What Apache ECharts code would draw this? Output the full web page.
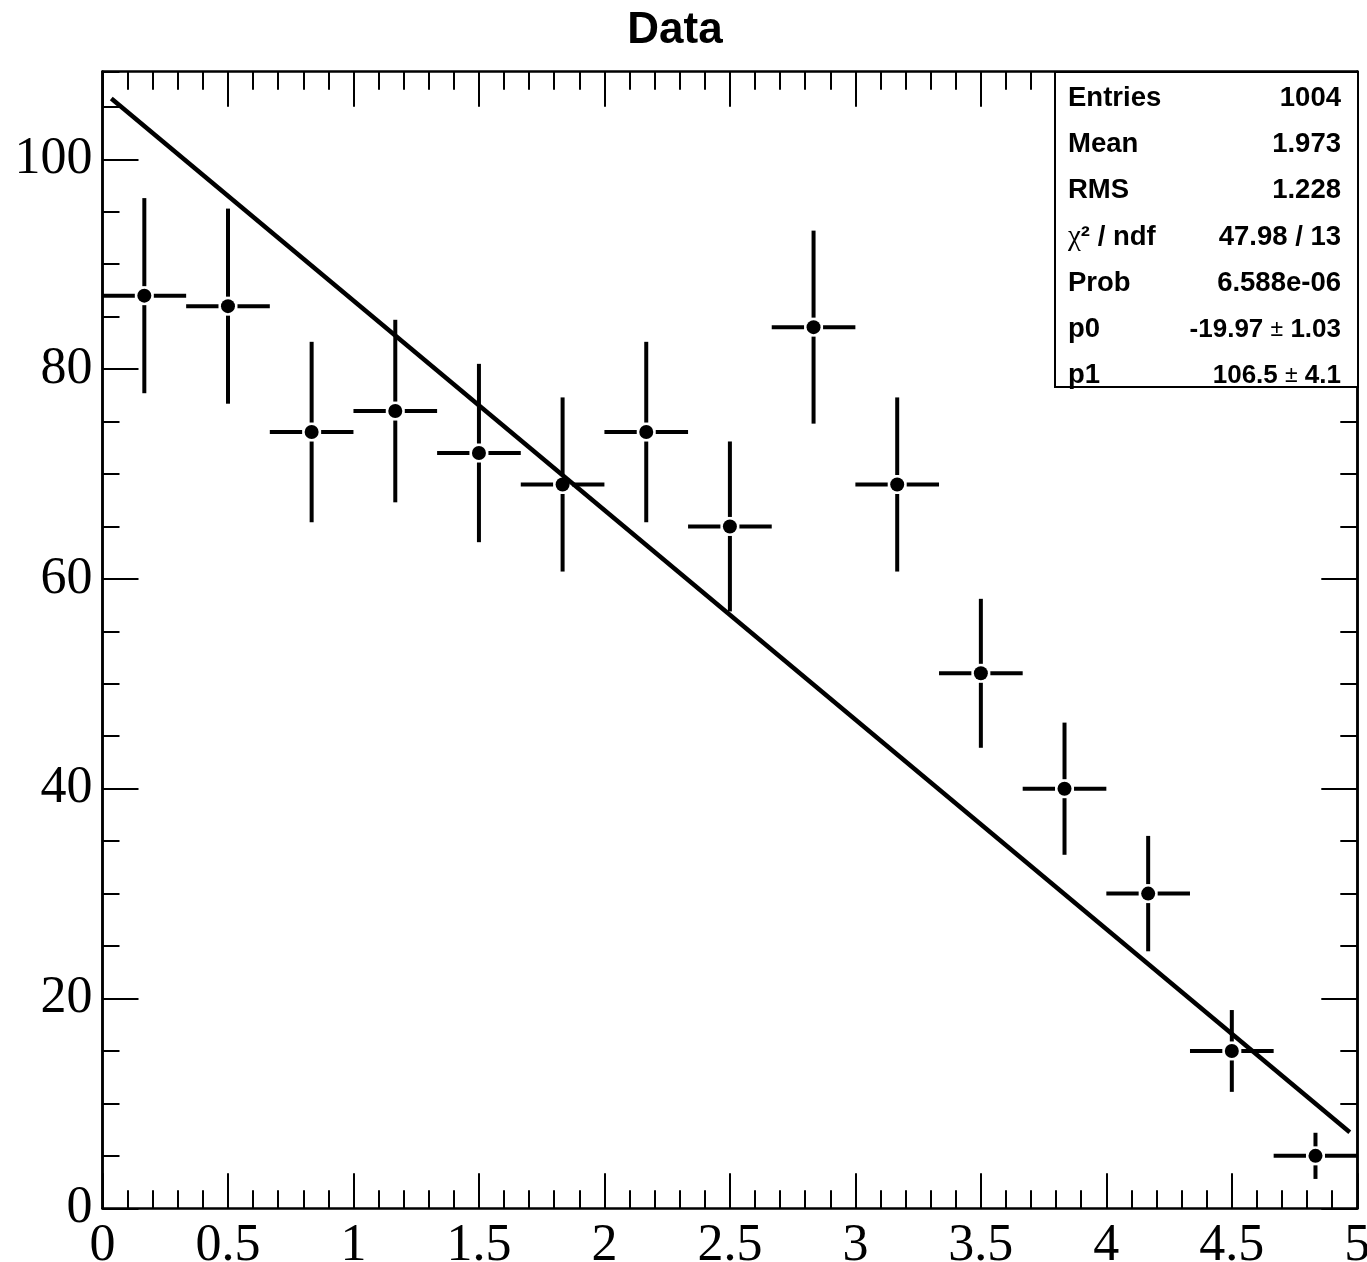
<!DOCTYPE html>
<html>
<head>
<meta charset="utf-8">
<title>Data</title>
<script src="https://cdn.jsdelivr.net/npm/echarts@6/dist/echarts.min.js"></script>
<style>
  html, body { margin: 0; padding: 0; background: #fff; overflow: hidden; }
  #chart { position: absolute; left: 0; top: 0; width: 1367px; height: 1262px; }
</style>
</head>
<body>
<div id="chart"></div>
<script>
// Histogram: 15 bins over [0, 5]
const binEdges = [0, 0.3333, 0.6667, 1, 1.3333, 1.6667, 2, 2.3333, 2.6667, 3,
                  3.3333, 3.6667, 4, 4.3333, 4.6667, 5];
const counts = [87, 86, 74, 76, 72, 69, 74, 65, 84, 69, 51, 40, 30, 15, 5];
const errors = [9.3, 9.3, 8.6, 8.7, 8.5, 8.3, 8.6, 8.1, 9.2, 8.3, 7.1, 6.3, 5.5, 3.9, 2.2];

// Linear fit y = p1 + p0 * x
const fitP0 = -19.97;
const fitP1 = 106.5;
const fitRange = [0.035, 4.97];

// Statistics box
const statsLabels = ['Entries', 'Mean', 'RMS', 'chi', 'Prob', 'p0', 'p1'];
const statsValues = ['1004', '1.973', '1.228', '47.98 / 13', '6.588e-06', '-19.97|1.03', '106.5|4.1'];

const X_MIN = 0, X_MAX = 5;
const Y_MIN = 0, Y_MAX = 108.35;

const binData = counts.map((c, i) => {
  const lo = binEdges[i], hi = binEdges[i + 1];
  return [(lo + hi) / 2, c, lo, hi, errors[i]];
});
const fitData = fitRange.map(x => [x, fitP1 + fitP0 * x]);

const chart = echarts.init(document.getElementById('chart'), null, { renderer: 'canvas', width: 1367, height: 1262 });

const serif = '"Liberation Serif", "Times New Roman", serif';
const sans = '"Liberation Sans", Arial, Helvetica, sans-serif';
const axisLineStyle = { color: '#000', width: 2.5 };
const tickStyle = { color: '#000', width: 2 };

function xAxisDef(pos, showLabels) {
  return {
    type: 'value', position: pos, min: X_MIN, max: X_MAX, interval: 0.5,
    axisLine: { show: true, onZero: false, lineStyle: axisLineStyle },
    axisTick: { show: true, inside: true, length: 35, lineStyle: tickStyle },
    minorTick: { show: true, splitNumber: 5, length: 18, lineStyle: tickStyle },
    splitLine: { show: false },
    axisLabel: {
      show: showLabels, color: '#000', fontFamily: serif, fontSize: 52, margin: 12,
      showMinLabel: true, showMaxLabel: true, hideOverlap: false
    }
  };
}

function yAxisDef(pos, interval, tickLen, showLabels) {
  return {
    type: 'value', position: pos, min: Y_MIN, max: Y_MAX, interval: interval,
    axisLine: { show: true, onZero: false, lineStyle: axisLineStyle },
    axisTick: { show: true, inside: true, length: tickLen, lineStyle: tickStyle },
    splitLine: { show: false },
    axisLabel: {
      show: showLabels, color: '#000', fontFamily: serif, fontSize: 52, margin: 10,
      showMaxLabel: false, padding: [8, 0, 0, 0]
    }
  };
}

const graphics = [];
graphics.push({
  type: 'text', z: 101, x: 675, y: 31,
  style: {
    text: 'Data', align: 'center', verticalAlign: 'middle',
    fontFamily: sans, fontWeight: 'bold', fontSize: 44, fill: '#000'
  }
});
const boxLeft = 1055, boxTop = 72, boxRight = 1358, boxBottom = 387;
graphics.push({
  type: 'rect', z: 100,
  shape: { x: boxLeft, y: boxTop, width: boxRight - boxLeft, height: boxBottom - boxTop },
  style: { fill: '#fff', stroke: '#000', lineWidth: 2 }
});
statsLabels.forEach((lab, i) => {
  const y = 98.5 + i * 46.2;
  const labelText = lab === 'chi' ? '{g|χ}{b|² / ndf}' : '{b|' + lab + '}';
  graphics.push({
    type: 'text', z: 101, x: 1068, y: y,
    style: {
      text: labelText, align: 'left', verticalAlign: 'middle',
      rich: {
        b: { fontFamily: sans, fontWeight: 'bold', fontSize: 27.5, fill: '#000' },
        g: { fontFamily: serif, fontSize: 29, fill: '#000' }
      }
    }
  });
  const v = statsValues[i];
  let valText;
  if (v.indexOf('|') >= 0) {
    const parts = v.split('|');
    valText = '{v|' + parts[0] + ' }{pm|±}{v| ' + parts[1] + '}';
  } else {
    valText = '{b|' + v + '}';
  }
  graphics.push({
    type: 'text', z: 101, x: 1341, y: y,
    style: {
      text: valText, align: 'right', verticalAlign: 'middle',
      rich: {
        b: { fontFamily: sans, fontWeight: 'bold', fontSize: 27.5, fill: '#000' },
        v: { fontFamily: sans, fontWeight: 'bold', fontSize: 26, fill: '#000' },
        pm: { fontFamily: sans, fontSize: 23, fill: '#000' }
      }
    }
  });
});

const option = {
  animation: false,
  backgroundColor: '#fff',
  grid: {
    left: 102.5, right: 9.7, top: 71.7, bottom: 53.7,
    containLabel: false, outerBoundsMode: 'none'
  },
  xAxis: [xAxisDef('bottom', true), xAxisDef('top', false)],
  yAxis: [
    yAxisDef('left', 20, 36, true),
    yAxisDef('left', 5, 17, false),
    yAxisDef('right', 20, 36, false),
    yAxisDef('right', 5, 17, false)
  ],
  series: [
    {
      name: 'errors', type: 'custom', xAxisIndex: 0, yAxisIndex: 0,
      data: binData, z: 3, clip: false,
      renderItem: function (params, api) {
        const xc = api.value(0), y = api.value(1);
        const lo = api.value(2), hi = api.value(3), e = api.value(4);
        const c = api.coord([xc, y]);
        const pl = api.coord([lo, y]);
        const ph = api.coord([hi, y]);
        const pt = api.coord([xc, y + e]);
        const pb = api.coord([xc, y - e]);
        const gap = 9.5;
        const st = { stroke: '#000', lineWidth: 4, fill: null };
        const children = [];
        if (c[0] - gap > pl[0]) children.push({ type: 'line', shape: { x1: pl[0], y1: c[1], x2: c[0] - gap, y2: c[1] }, style: st });
        if (ph[0] > c[0] + gap) children.push({ type: 'line', shape: { x1: c[0] + gap, y1: c[1], x2: ph[0], y2: c[1] }, style: st });
        if (pt[1] < c[1] - gap) children.push({ type: 'line', shape: { x1: c[0], y1: pt[1], x2: c[0], y2: c[1] - gap }, style: st });
        if (pb[1] > c[1] + gap) children.push({ type: 'line', shape: { x1: c[0], y1: c[1] + gap, x2: c[0], y2: pb[1] }, style: st });
        return { type: 'group', children: children };
      }
    },
    {
      name: 'counts', type: 'scatter', xAxisIndex: 0, yAxisIndex: 0,
      data: binData.map(d => [d[0], d[1]]),
      symbol: 'circle', symbolSize: 14, z: 4,
      itemStyle: { color: '#000', opacity: 1, borderWidth: 0 }
    },
    {
      name: 'fit', type: 'line', xAxisIndex: 0, yAxisIndex: 0,
      data: fitData, showSymbol: false, z: 5,
      lineStyle: { color: '#000', width: 4.5, cap: 'butt' }
    }
  ],
  graphic: graphics
};

chart.setOption(option);
</script>
</body>
</html>
